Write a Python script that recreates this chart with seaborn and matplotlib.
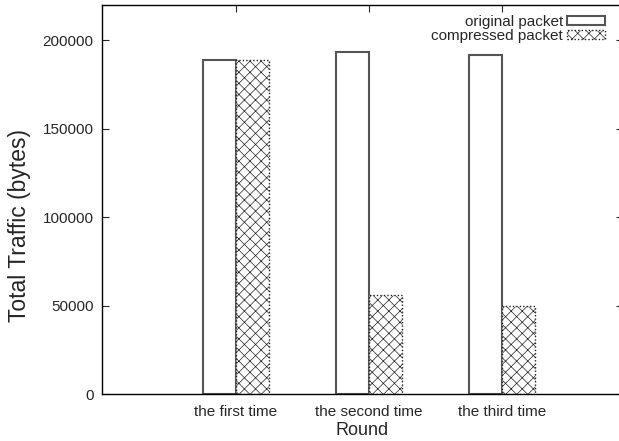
import pandas as pd
import seaborn as sns
import matplotlib.pyplot as plt
import numpy as np

# chart values
rounds = ["the first time", "the second time", "the third time"]
original = [189000, 193200, 191500]
compressed = [189000, 56000, 50000]
series = ["original packet", "compressed packet"]

df = pd.DataFrame({
    "Round": rounds * 2,
    "Traffic": original + compressed,
    "Packet": [series[0]] * 3 + [series[1]] * 3,
})

sns.set_style("ticks")
plt.rcParams['font.family'] = ['Liberation Sans', 'DejaVu Sans']
plt.rcParams['hatch.linewidth'] = 0.5
plt.rcParams['hatch.color'] = '#777777'

fig = plt.figure(figsize=(6.19, 4.41), dpi=100)
ax = fig.add_axes([102 / 619, 1 - 394 / 441, 521 / 619, 389 / 441])

sns.barplot(data=df, x="Round", y="Traffic", hue="Packet", width=0.5,
            palette=["white", "white"], saturation=1, ax=ax)

# style bars: plain outline for original, dotted cross-hatch for compressed
for i, bar in enumerate(ax.patches[:6]):
    if i < 3:
        bar.set_edgecolor('#555555')
        bar.set_linewidth(1.5)
    else:
        bar.set_edgecolor('#222222')
        bar.set_hatch('xxx')
        bar.set_linestyle((0, (1, 1.5)))
        bar.set_linewidth(1.0)

ax.set_xlim(-1.0075, 2.91)
ax.set_ylim(0, 220000)
ax.set_yticks([0, 50000, 100000, 150000, 200000])
ax.set_xlabel("Round", fontsize=13, labelpad=2)
ax.set_ylabel("Total Traffic (bytes)", fontsize=16.5)
ax.yaxis.set_label_coords((31 - 102) / 521, (394 - 226) / 389)
ax.tick_params(direction='in', top=True, right=True, labelsize=11, length=5, width=0.8)
ax.tick_params(axis='x', pad=8)
ax.tick_params(axis='y', pad=6)
for s in ax.spines.values():
    s.set_linewidth(1.0)
    s.set_color('black')

leg = ax.legend(loc='upper right', bbox_to_anchor=((605 - 102) / 521, (394 - 15) / 389),
                frameon=False, markerfirst=False, fontsize=11, handlelength=2.5,
                handleheight=0.6, handletextpad=0.25, labelspacing=0.0,
                borderaxespad=0, borderpad=0)
leg.legend_handles[0].set_linewidth(1.5)
leg.legend_handles[0].set_edgecolor('#555555')
leg.legend_handles[1].set_edgecolor('#222222')
leg.legend_handles[1].set_hatch('xxx')
leg.legend_handles[1].set_linestyle((0, (1, 1.5)))

fig.savefig('out.png', dpi=100)
